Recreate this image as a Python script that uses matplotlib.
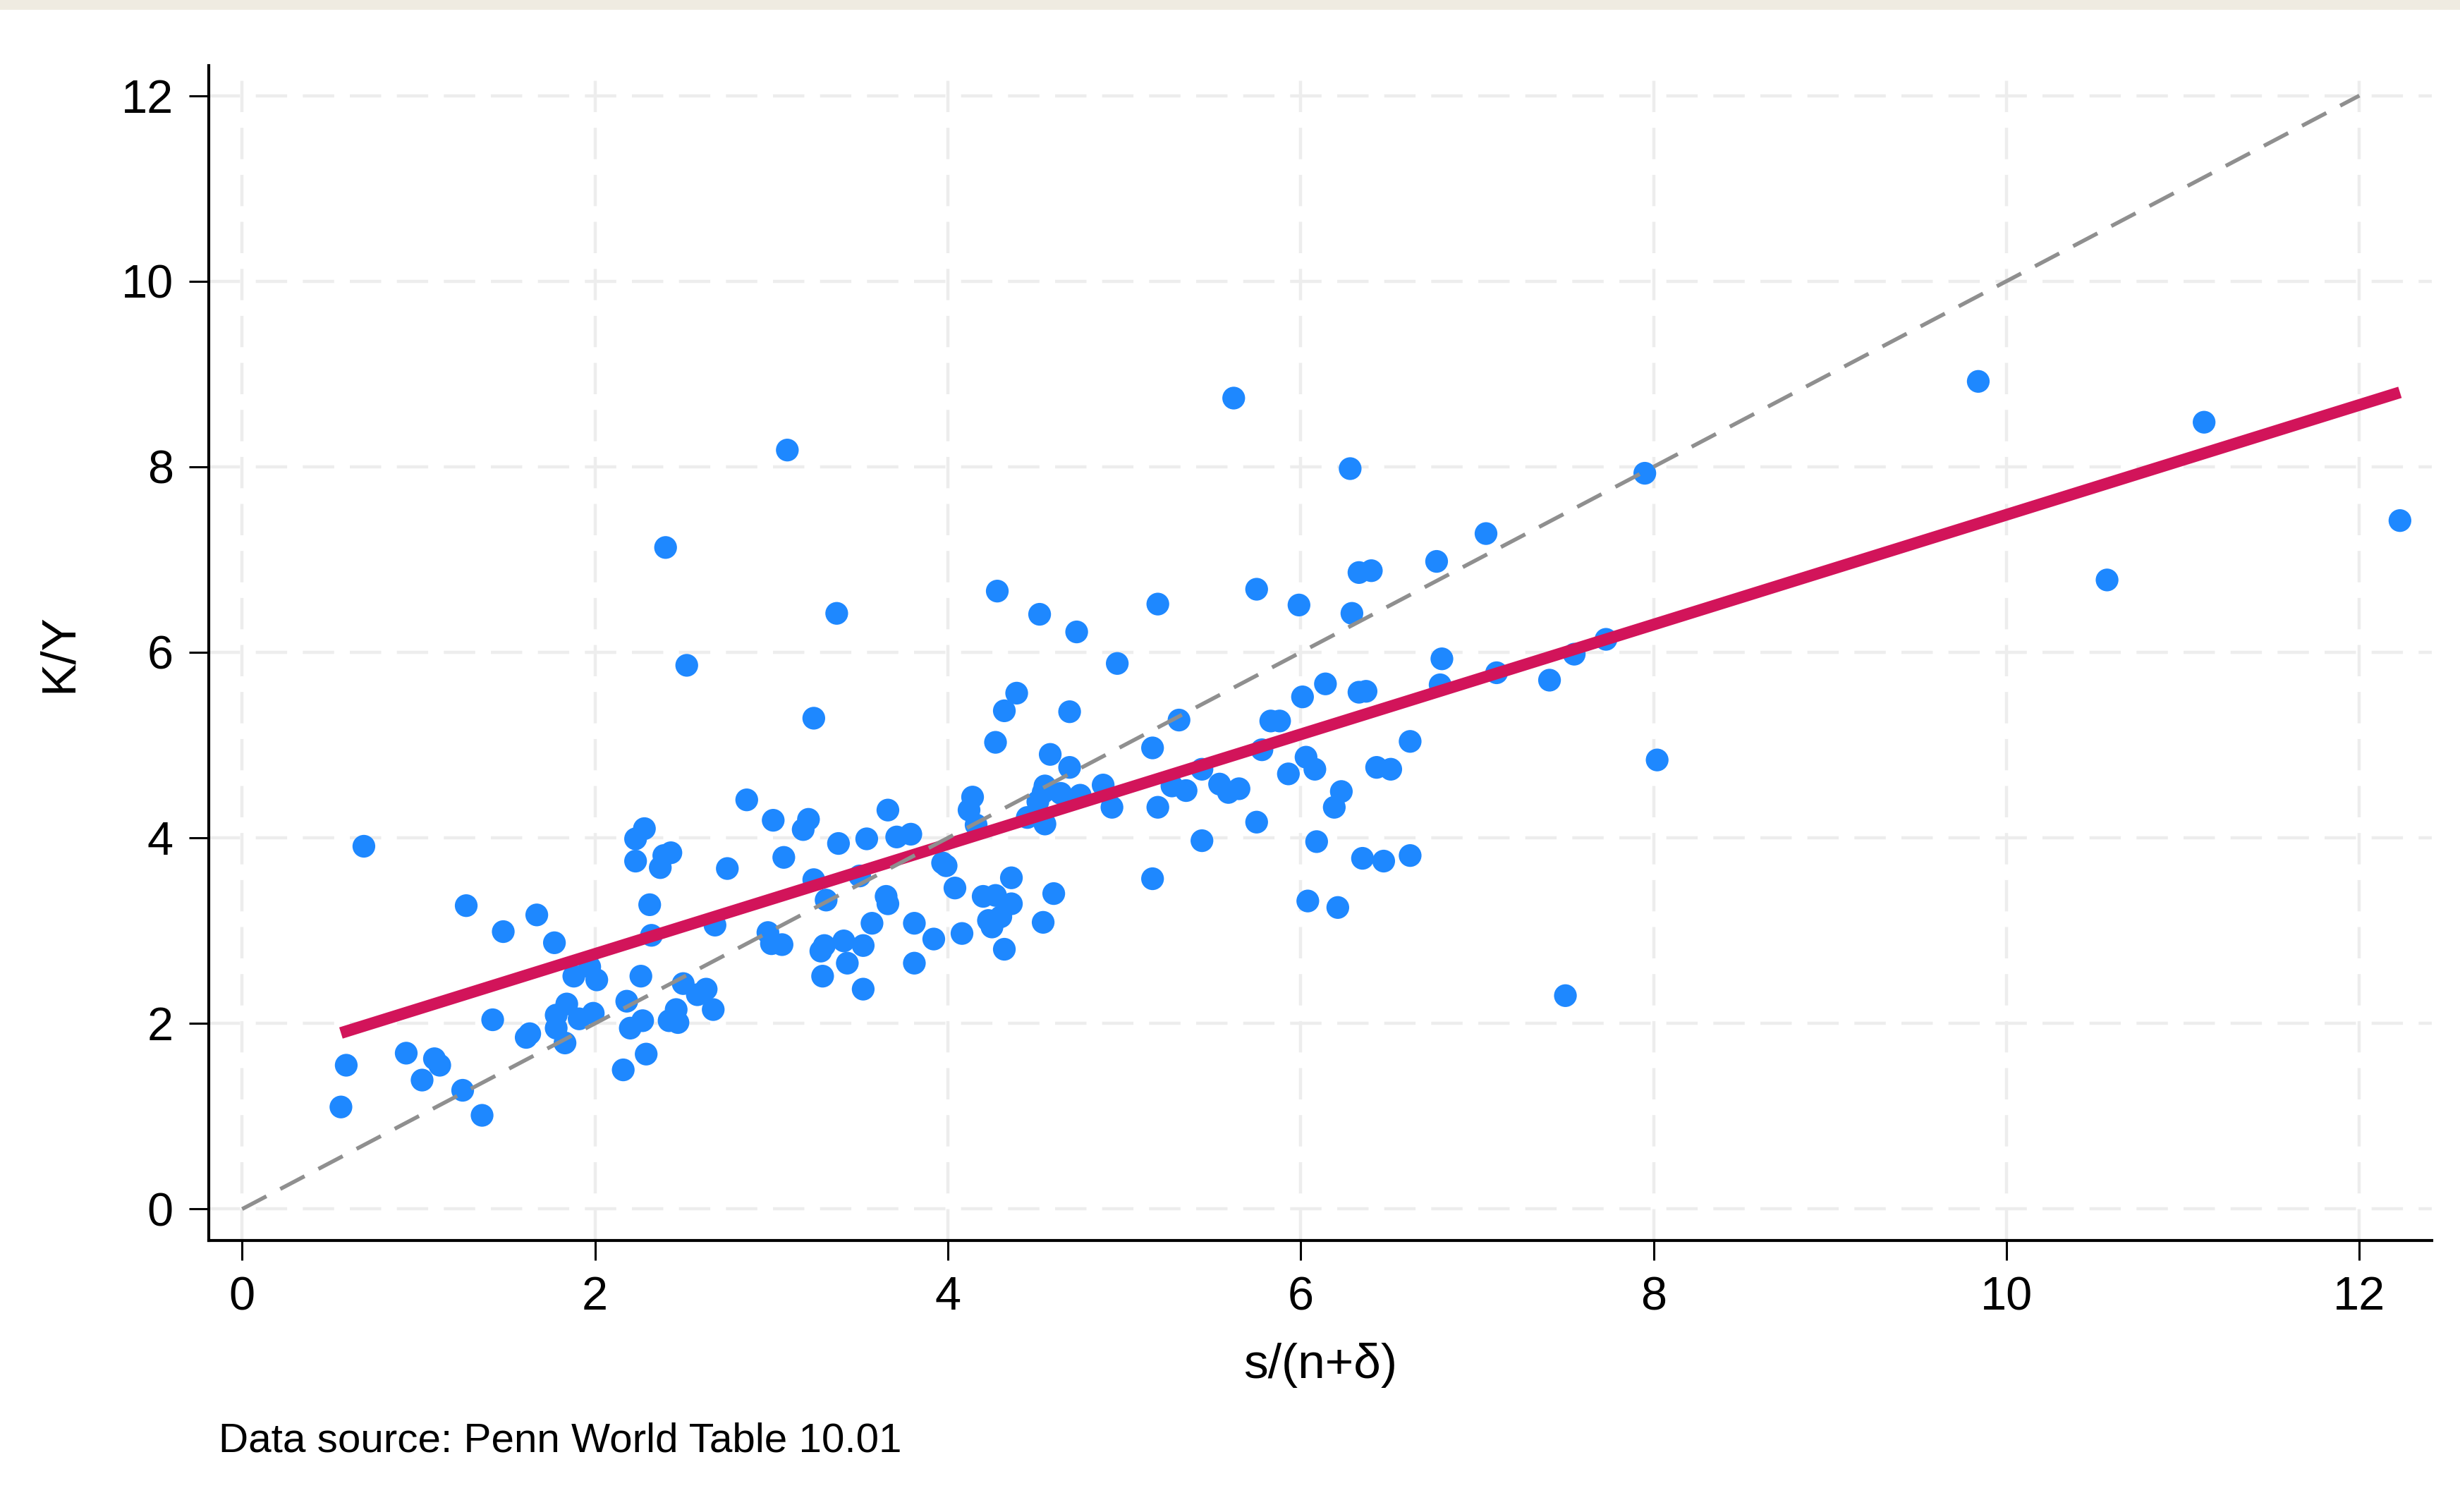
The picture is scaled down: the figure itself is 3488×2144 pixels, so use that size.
import numpy as np
import matplotlib.pyplot as plt
from matplotlib.patches import Rectangle

plt.rcParams['font.family'] = ['Liberation Sans', 'DejaVu Sans']

# s/(n+delta) and K/Y
x_vals = [0.69, 2.86, 3.01, 2.28, 2.23, 2.23, 2.39, 2.43, 2.37, 2.75, 3.07, 1.27, 1.67, 1.48,
          1.77, 2.31, 2.32, 2.68, 2.98, 3.00, 3.06, 1.88, 1.97, 2.01, 2.26, 2.18, 2.50, 2.58,
          2.63, 2.67, 2.46, 2.42, 2.47, 1.84, 1.78, 1.78, 1.91, 1.99, 1.83, 2.20, 2.27, 2.29,
          2.16, 1.42, 1.63, 1.61, 0.93, 1.09, 1.12, 1.02, 1.25, 1.36, 0.59, 0.56,
          4.27, 4.58, 4.69, 5.16, 4.55, 4.64, 4.75, 4.51, 4.54, 4.88, 4.93, 4.45, 4.55, 4.14,
          4.12, 4.16, 5.27, 5.35, 5.44, 5.54, 5.59, 5.65, 5.19, 5.75, 5.44, 5.16, 3.21, 3.18,
          3.38, 3.54, 3.66, 3.71, 3.79, 3.97, 3.99, 3.24, 3.50, 3.31, 3.65, 3.66, 4.04, 4.36,
          4.20, 4.27, 4.36, 4.23, 4.30, 4.25, 4.60, 4.54, 3.57, 3.81, 3.92, 4.08, 4.32, 3.28,
          3.30, 3.41, 3.52, 3.43, 3.29, 3.81, 3.52,
          4.96, 5.31, 5.78, 5.83, 5.88, 6.01, 6.14, 6.33, 6.37, 6.80, 6.79, 7.11, 7.41, 6.62,
          6.03, 6.08, 5.93, 6.43, 6.51, 6.23, 6.19, 6.09, 6.35, 6.47, 6.62, 6.04, 6.21,
          7.55, 7.73, 8.02, 7.50,
          3.09, 2.40, 2.52, 3.37, 3.24, 4.28, 4.52, 4.73, 4.39, 4.32, 4.69, 5.19, 5.62, 5.75,
          5.99, 6.28, 6.33, 6.40, 6.29, 6.77, 7.05, 7.95, 9.84, 11.12, 10.57, 12.23]
y_vals = [3.91, 4.41, 4.19, 4.10, 3.99, 3.75, 3.81, 3.84, 3.68, 3.67, 3.79, 3.27, 3.17, 2.99,
          2.87, 3.28, 2.95, 3.06, 2.98, 2.86, 2.85, 2.51, 2.61, 2.47, 2.51, 2.24, 2.43, 2.31,
          2.37, 2.15, 2.15, 2.03, 2.01, 2.21, 2.09, 1.95, 2.05, 2.11, 1.79, 1.95, 2.03, 1.67,
          1.50, 2.04, 1.89, 1.85, 1.68, 1.62, 1.55, 1.39, 1.28, 1.01, 1.55, 1.10,
          5.03, 4.90, 4.76, 4.97, 4.56, 4.48, 4.46, 4.39, 4.49, 4.57, 4.33, 4.22, 4.15, 4.44,
          4.30, 4.14, 4.56, 4.51, 4.74, 4.58, 4.49, 4.53, 4.33, 4.17, 3.97, 3.56, 4.20, 4.09,
          3.94, 3.99, 4.30, 4.01, 4.04, 3.73, 3.70, 3.55, 3.59, 3.33, 3.37, 3.29, 3.46, 3.57,
          3.37, 3.38, 3.29, 3.11, 3.15, 3.04, 3.40, 3.09, 3.08, 3.08, 2.91, 2.97, 2.80, 2.78,
          2.84, 2.89, 2.84, 2.65, 2.51, 2.65, 2.37,
          5.88, 5.27, 4.95, 5.26, 5.26, 5.52, 5.66, 5.57, 5.58, 5.93, 5.65, 5.78, 5.70, 5.04,
          4.87, 4.74, 4.69, 4.76, 4.74, 4.50, 4.33, 3.96, 3.78, 3.75, 3.81, 3.32, 3.25,
          5.98, 6.14, 4.84, 2.30,
          8.18, 7.13, 5.86, 6.42, 5.29, 6.66, 6.41, 6.22, 5.56, 5.37, 5.36, 6.52, 8.74, 6.68,
          6.51, 7.98, 6.86, 6.88, 6.42, 6.98, 7.28, 7.93, 8.92, 8.48, 6.78, 7.42]
ticks = [0, 2, 4, 6, 8, 10, 12]

x = np.array(x_vals)
y = np.array(y_vals)

fig = plt.figure(figsize=(17.44, 10.72), dpi=200)
fig.patches.append(Rectangle((0, 0.9945), 1, 0.0055, transform=fig.transFigure,
                             color='#efebe1', zorder=0))
ax = fig.add_axes([0.0848, 0.1795, 0.9037, 0.7769])

ax.scatter(x, y, s=135, color='#1e88ff', edgecolors='none', zorder=3)

# OLS fit line over data range
b, a = np.polyfit(x, y, 1)
xf = np.array([x.min(), x.max()])
ax.plot(xf, a + b * xf, color='#d2145a', lw=6, solid_capstyle='butt', zorder=4)

# 45 degree line
ax.plot([0, 12], [0, 12], color='#8f8f8f', lw=2.0, dashes=(7, 4), zorder=5)

ax.set_xlim(-0.19, 12.41)
ax.set_ylim(-0.34, 12.32)
ax.set_xticks(ticks)
ax.set_yticks(ticks)
ax.tick_params(labelsize=24, length=10, width=1.1, direction='out', pad=8)

for v in ticks:
    ax.axhline(v, color='#ededed', lw=1.6, dashes=(10, 5), zorder=1)
    ax.axvline(v, color='#ededed', lw=1.6, dashes=(10, 5), zorder=1)

for s in ['top', 'right']:
    ax.spines[s].set_visible(False)
for s in ['left', 'bottom']:
    ax.spines[s].set_linewidth(1.5)

ax.set_xlabel('s/(n+δ)', fontsize=25, labelpad=12)
ax.set_ylabel('K/Y', fontsize=25, labelpad=20)

fig.text(0.089, 0.040, 'Data source: Penn World Table 10.01', fontsize=21)

fig.savefig('out.png', dpi=200)
